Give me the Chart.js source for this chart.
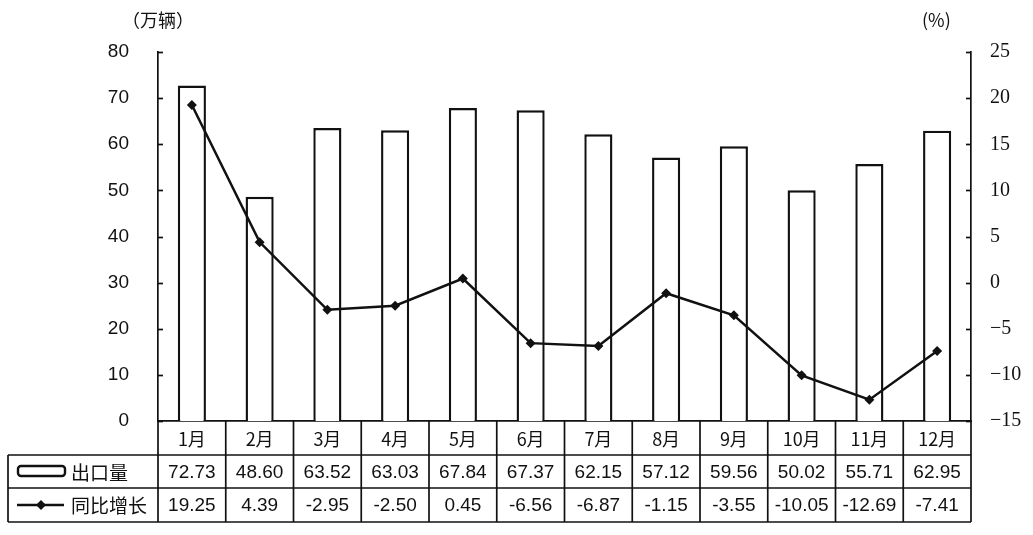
<!DOCTYPE html>
<html>
<head>
<meta charset="utf-8">
<script src="https://cdn.jsdelivr.net/npm/chart.js@4/dist/chart.umd.min.js"></script>
<style>
  html, body { margin: 0; padding: 0; background: #fff; }
  #wrap { width: 1033px; height: 535px; position: relative; }
</style>
</head>
<body>
<div id="wrap"><canvas id="c" width="1033" height="535"></canvas></div>
<script>
const categories = ['1月','2月','3月','4月','5月','6月','7月','8月','9月','10月','11月','12月'];
const exportVolume = [72.73, 48.60, 63.52, 63.03, 67.84, 67.37, 62.15, 57.12, 59.56, 50.02, 55.71, 62.95];
const yoyGrowth = [19.25, 4.39, -2.95, -2.50, 0.45, -6.56, -6.87, -1.15, -3.55, -10.05, -12.69, -7.41];
const seriesNames = ['出口量', '同比增长'];
const leftUnit = '（万辆）';
const rightUnit = '(%)';
const leftRange = [0, 80, 10];
const rightRange = [-15, 25, 5];

const CJK = '"Noto Sans CJK SC", "Noto Sans", sans-serif';
const SERIF = '"Liberation Serif", "DejaVu Serif", serif';
const SANS = '"Liberation Sans", Arial, sans-serif';
const INK = '#111111';

const tablePlugin = {
  id: 'tablePlugin',
  afterDraw(chart) {
    const ctx = chart.ctx;
    const area = chart.chartArea;
    const x = chart.scales.x;
    const y = chart.scales.y;
    const y1 = chart.scales.y1;
    const rowTop = area.bottom;
    const r1 = 455, r2 = 488, r3 = 522, tableLeft = 8;
    ctx.save();
    ctx.strokeStyle = INK;
    ctx.lineWidth = 1.7;
    // inward ticks
    y.ticks.forEach(t => {
      const py = Math.round(y.getPixelForValue(t.value)) + 0.5;
      ctx.beginPath(); ctx.moveTo(area.left, py); ctx.lineTo(area.left + 5, py); ctx.stroke();
    });
    y1.ticks.forEach(t => {
      const py = Math.round(y1.getPixelForValue(t.value)) + 0.5;
      ctx.beginPath(); ctx.moveTo(area.right, py); ctx.lineTo(area.right - 5, py); ctx.stroke();
    });
    // table grid
    [r1, r2, r3].forEach(ry => {
      ctx.beginPath(); ctx.moveTo(tableLeft, ry); ctx.lineTo(area.right, ry); ctx.stroke();
    });
    ctx.beginPath(); ctx.moveTo(tableLeft, r1); ctx.lineTo(tableLeft, r3); ctx.stroke();
    const w = (area.right - area.left) / categories.length;
    for (let i = 0; i <= categories.length; i++) {
      const px = area.left + i * w;
      ctx.beginPath(); ctx.moveTo(px, rowTop); ctx.lineTo(px, r3); ctx.stroke();
    }
    // values
    ctx.fillStyle = INK;
    ctx.font = '19px ' + SANS;
    ctx.textAlign = 'center';
    ctx.textBaseline = 'middle';
    categories.forEach((c, i) => {
      const px = x.getPixelForValue(i);
      ctx.fillText(exportVolume[i].toFixed(2), px, (r1 + r2) / 2 + 1);
      ctx.fillText(yoyGrowth[i].toFixed(2), px, (r2 + r3) / 2 + 1);
    });
    // legend symbols
    ctx.lineWidth = 2.4;
    ctx.beginPath();
    if (ctx.roundRect) ctx.roundRect(18, 466, 47, 10, 3); else ctx.rect(18, 466, 47, 10);
    ctx.stroke();
    ctx.beginPath(); ctx.moveTo(17, 505); ctx.lineTo(64, 505); ctx.stroke();
    ctx.beginPath();
    ctx.moveTo(41, 500); ctx.lineTo(46, 505); ctx.lineTo(41, 510); ctx.lineTo(36, 505); ctx.closePath();
    ctx.fill();
    ctx.font = '19px ' + CJK;
    ctx.textAlign = 'left';
    ctx.fillText(seriesNames[0], 71, (r1 + r2) / 2 + 1);
    ctx.fillText(seriesNames[1], 71, (r2 + r3) / 2 + 1);
    // units
    ctx.font = '18px ' + CJK;
    ctx.fillText(leftUnit, 122, 20);
    ctx.fillText(rightUnit, 922, 20);
    ctx.restore();
  }
};

new Chart(document.getElementById('c'), {
  data: {
    labels: categories,
    datasets: [
      {
        type: 'line',
        label: seriesNames[1],
        data: yoyGrowth,
        yAxisID: 'y1',
        borderColor: INK,
        backgroundColor: INK,
        borderWidth: 2.5,
        pointStyle: 'rectRot',
        pointRadius: 5,
        pointBorderWidth: 0,
        tension: 0,
        order: 1
      },
      {
        type: 'bar',
        label: seriesNames[0],
        data: exportVolume,
        yAxisID: 'y',
        backgroundColor: '#ffffff',
        borderColor: INK,
        borderWidth: 2.4,
        categoryPercentage: 1,
        barPercentage: 0.415,
        order: 2
      }
    ]
  },
  options: {
    responsive: false,
    animation: false,
    devicePixelRatio: 1,
    layout: { padding: { top: 52, left: 0, right: 0, bottom: 0 } },
    plugins: { legend: { display: false }, tooltip: { enabled: false }, title: { display: false } },
    scales: {
      x: {
        position: 'bottom',
        grid: { display: false, drawTicks: false },
        border: { display: true, color: INK, width: 1.7 },
        ticks: { color: INK, font: { family: CJK, size: 18 }, padding: 7, maxRotation: 0, autoSkip: false },
        afterFit(s) { s.height = 114; }
      },
      y: {
        position: 'left',
        min: leftRange[0], max: leftRange[1],
        ticks: { stepSize: leftRange[2], color: INK, font: { family: SANS, size: 19 }, padding: 29 },
        grid: { display: false, drawTicks: false },
        border: { display: true, color: INK, width: 1.7 },
        afterFit(s) { s.width = 158; }
      },
      y1: {
        position: 'right',
        min: rightRange[0], max: rightRange[1],
        ticks: {
          stepSize: rightRange[2], color: INK, font: { family: SERIF, size: 20 }, padding: 19,
          callback: v => (v < 0 ? '\u2212' + Math.abs(v) : String(v))
        },
        grid: { display: false, drawTicks: false },
        border: { display: true, color: INK, width: 1.7 },
        afterFit(s) { s.width = 62; }
      }
    }
  },
  plugins: [tablePlugin]
});
</script>
</body>
</html>
